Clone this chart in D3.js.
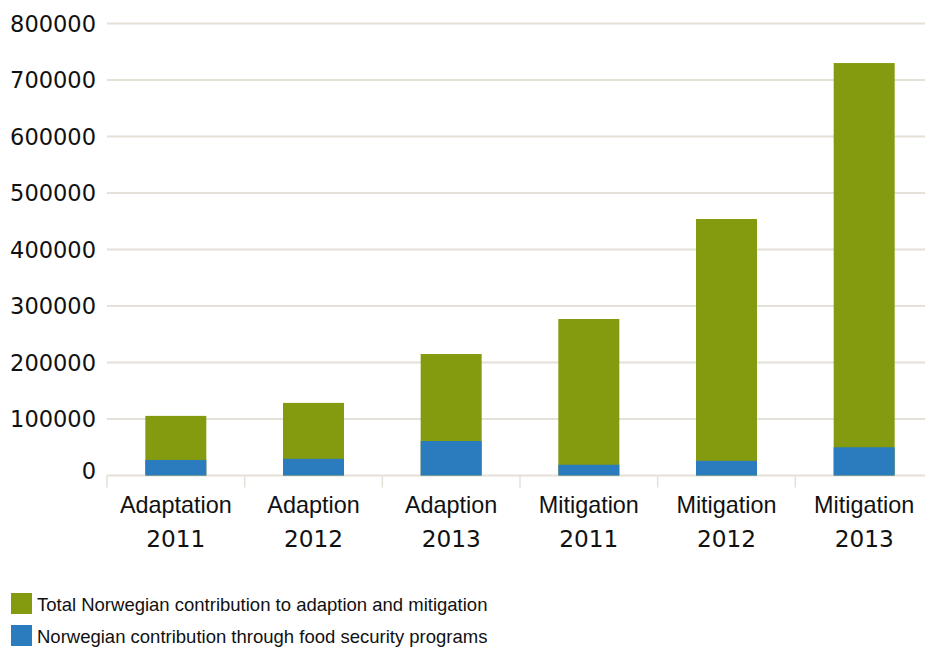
<!DOCTYPE html>
<html><head><meta charset="utf-8">
<script src="https://cdn.jsdelivr.net/npm/d3@7"></script>
<style>body{margin:0;background:#fff}svg{display:block}</style>
</head><body>
<svg id="c" width="925" height="648"></svg>
<script>
const categories = ["Adaptation 2011","Adaption 2012","Adaption 2013","Mitigation 2011","Mitigation 2012","Mitigation 2013"];
const totalValues = [105500, 128500, 215000, 277000, 454000, 730000];
const foodValues = [27500, 29500, 61000, 19000, 26000, 50000];
const yTicks = [0,100000,200000,300000,400000,500000,600000,700000,800000];
const seriesNames = ["Total Norwegian contribution to adaption and mitigation","Norwegian contribution through food security programs"];
const colors = ["#849b0f","#2b7bbf"];

const svg = d3.select("#c");
const x = d3.scaleBand().domain(categories).range([107, 933]).paddingInner(0).paddingOuter(0);
const y = d3.scaleLinear().domain([0, 800000]).range([475.5, 23.5]);
const gridColor = "#e5e0d8";

// gridlines
svg.append("g").selectAll("line").data(yTicks).join("line")
  .attr("x1",107).attr("x2",925)
  .attr("y1",d=>y(d)).attr("y2",d=>y(d))
  .attr("stroke",gridColor).attr("stroke-width",2);

// y labels
svg.append("g").selectAll("text").data(yTicks).join("text")
  .attr("x",96).attr("y",d=>y(d) + (d===0 ? -5 : 0))
  .attr("dy","0.36em").attr("text-anchor","end")
  .style("font-family","'DejaVu Sans', sans-serif").style("font-size","22.5px").attr("fill","#111")
  .text(d=>d);

// category ticks
const bounds = categories.map(c=>x(c)).concat([x(categories[5])+x.bandwidth()]);
svg.append("g").selectAll("line").data(bounds).join("line")
  .attr("x1",d=>d).attr("x2",d=>d).attr("y1",475.5).attr("y2",487.5)
  .attr("stroke",gridColor).attr("stroke-width",1.5);

// bars
const bw = x.bandwidth()*0.443;
const g = svg.append("g");
g.selectAll("rect.t").data(categories).join("rect").attr("class","t")
  .attr("x",(d)=>x(d)+x.bandwidth()/2-bw/2).attr("width",bw)
  .attr("y",(d,i)=>y(totalValues[i])).attr("height",(d,i)=>y(0)-y(totalValues[i]))
  .attr("fill",colors[0]);
g.selectAll("rect.f").data(categories).join("rect").attr("class","f")
  .attr("x",(d)=>x(d)+x.bandwidth()/2-bw/2).attr("width",bw)
  .attr("y",(d,i)=>y(foodValues[i])).attr("height",(d,i)=>y(0)-y(foodValues[i]))
  .attr("fill",colors[1]);

// category labels
const lab = svg.append("g").selectAll("g").data(categories).join("g");
lab.append("text").attr("x",d=>x(d)+x.bandwidth()/2).attr("y",513)
  .attr("text-anchor","middle").style("font-family","'Liberation Sans', Arial, sans-serif")
  .style("font-size","23.4px").attr("fill","#111").text(d=>d.split(" ")[0]);
lab.append("text").attr("x",d=>x(d)+x.bandwidth()/2).attr("y",547)
  .attr("text-anchor","middle").style("font-family","'DejaVu Sans', sans-serif")
  .style("font-size","23.2px").attr("fill","#111").text(d=>d.split(" ")[1]);

// legend
const leg = svg.append("g").selectAll("g").data(seriesNames).join("g")
  .attr("transform",(d,i)=>`translate(11,${593 + i*32})`);
leg.append("rect").attr("width",21).attr("height",21).attr("fill",(d,i)=>colors[i]);
leg.append("text").attr("x",26).attr("y",18).style("font-family","'Liberation Sans', Arial, sans-serif")
  .style("font-size","18.5px").attr("fill","#111").text(d=>d);
</script>
</body></html>
